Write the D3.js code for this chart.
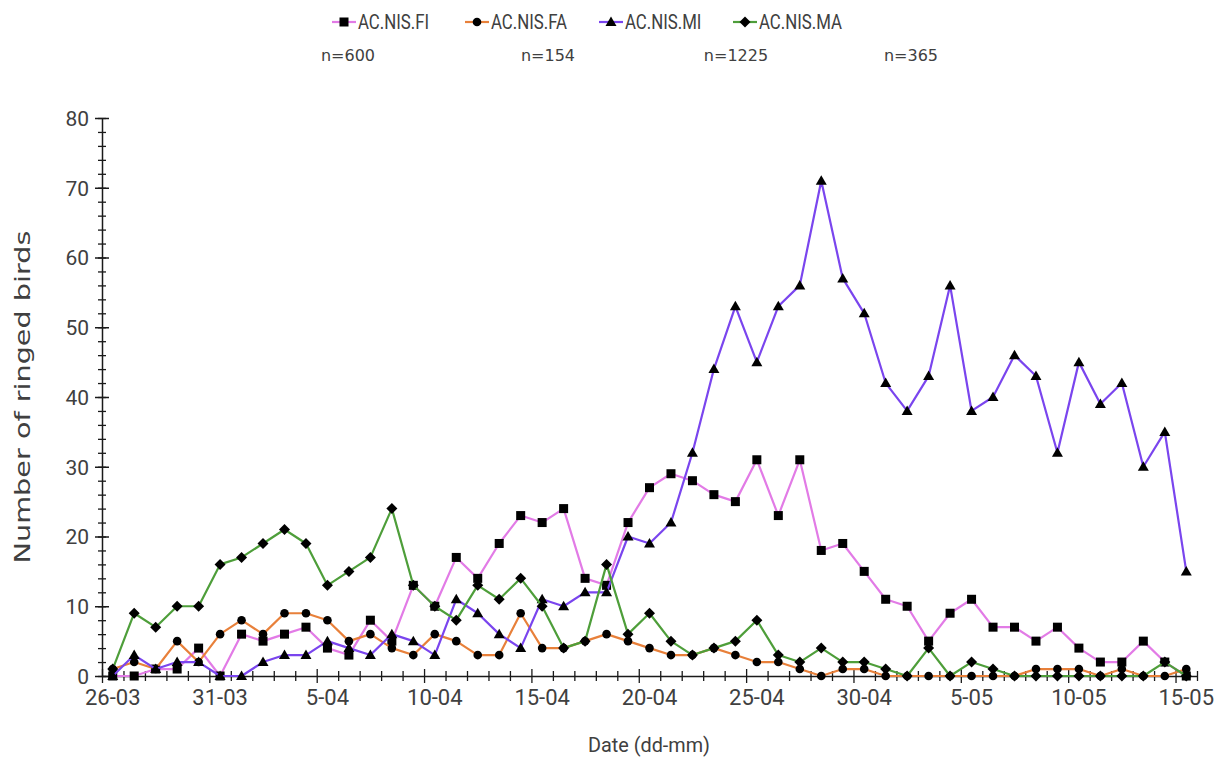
<!DOCTYPE html>
<html><head><meta charset="utf-8">
<script src="https://cdn.jsdelivr.net/npm/d3@7"></script>
<style>
body{margin:0;background:#fff;}
svg{display:block;font-family:"Roboto","Liberation Sans",sans-serif;}
</style></head>
<body><svg id="c" width="1222" height="765"></svg>
<script>
const dates = ["26-03","27-03","28-03","29-03","30-03","31-03","1-04","2-04","3-04","4-04","5-04","6-04","7-04","8-04","9-04","10-04","11-04","12-04","13-04","14-04","15-04","16-04","17-04","18-04","19-04","20-04","21-04","22-04","23-04","24-04","25-04","26-04","27-04","28-04","29-04","30-04","1-05","2-05","3-05","4-05","5-05","6-05","7-05","8-05","9-05","10-05","11-05","12-05","13-05","14-05","15-05"];
const seriesNames = ["AC.NIS.FI","AC.NIS.FA","AC.NIS.MI","AC.NIS.MA"];
const nLabels = ["n=600","n=154","n=1225","n=365"];
const fiValues = [0,0,1,1,4,0,6,5,6,7,4,3,8,5,13,10,17,14,19,23,22,24,14,13,22,27,29,28,26,25,31,23,31,18,19,15,11,10,5,9,11,7,7,5,7,4,2,2,5,2,0];
const faValues = [1,2,1,5,2,6,8,6,9,9,8,5,6,4,3,6,5,3,3,9,4,4,5,6,5,4,3,3,4,3,2,2,1,0,1,1,0,0,0,0,0,0,0,1,1,1,0,1,0,0,1];
const miValues = [0,3,1,2,2,0,0,2,3,3,5,4,3,6,5,3,11,9,6,4,11,10,12,12,20,19,22,32,44,53,45,53,56,71,57,52,42,38,43,56,38,40,46,43,32,45,39,42,30,35,15];
const maValues = [1,9,7,10,10,16,17,19,21,19,13,15,17,24,13,10,8,13,11,14,10,4,5,16,6,9,5,3,4,5,8,3,2,4,2,2,1,0,4,0,2,1,0,0,0,0,0,0,0,2,0];
const yMajorTicks = [0,10,20,30,40,50,60,70,80];
const xLabelDates = ["26-03","31-03","5-04","10-04","15-04","20-04","25-04","30-04","5-05","10-05","15-05"];

const colors = ["#E27BE6","#E8803A","#7A45EE","#4E9E3A"];
const markers = ["square","circle","triangle","diamond"];
const values = [fiValues, faValues, miValues, maValues];

const svg = d3.select("#c");
const L = 102, R = 1197, T = 118, B = 676;
const x = d3.scaleBand().domain(dates).range([L, R]).padding(0);
const xb = d3.scaleLinear().domain([0, dates.length]).range([L, R]);
const y = d3.scaleLinear().domain([0, 80]).range([B, T]);
const cx = d => x(d) + x.bandwidth()/2;
const axisColor = "#1a1a1a", textColor = "#404040";

// Y axis minor ticks
const yMinor = svg.append("g").attr("transform", `translate(${L},0)`)
  .call(d3.axisLeft(y).tickValues(d3.range(0, 81, 2)).tickFormat("").tickSize(0));
yMinor.select(".domain").remove();
yMinor.selectAll(".tick line").attr("x1", -4).attr("x2", 4).attr("stroke", axisColor).attr("stroke-width", 1.3);
// Y axis major
const yAx = svg.append("g").attr("transform", `translate(${L},0)`)
  .call(d3.axisLeft(y).tickValues(yMajorTicks).tickSize(0).tickPadding(13));
yAx.attr("font-size", 21).attr("font-family", null);
yAx.select(".domain").attr("stroke", axisColor).attr("stroke-width", 1.5);
yAx.selectAll(".tick line").attr("x1", -7).attr("x2", 7).attr("stroke", axisColor).attr("stroke-width", 1.5);
yAx.selectAll(".tick text").attr("fill", textColor).attr("dy", "0.35em");

// X axis boundary ticks
const xt = svg.append("g").attr("transform", `translate(0,${B})`)
  .call(d3.axisBottom(xb).tickValues(d3.range(0, dates.length + 1)).tickFormat("").tickSize(0));
xt.select(".domain").attr("stroke", axisColor).attr("stroke-width", 1.5);
xt.selectAll(".tick line")
  .attr("y1", d => d % 5 === 0 ? -7 : -5)
  .attr("y2", d => d % 5 === 0 ? 7 : 5)
  .attr("stroke", axisColor).attr("stroke-width", 1.3);
// X labels
const xl = svg.append("g").attr("transform", `translate(0,${B})`)
  .call(d3.axisBottom(x).tickValues(xLabelDates).tickSize(0).tickPadding(13));
xl.attr("font-size", 22).attr("font-family", null);
xl.select(".domain").remove();
xl.selectAll(".tick text").attr("fill", textColor);

// Axis titles
svg.append("text").attr("x", 649).attr("y", 752).attr("text-anchor", "middle")
  .attr("fill", textColor).style("font-size", "21px").attr("textLength", 122).attr("lengthAdjust", "spacingAndGlyphs")
  .text("Date (dd-mm)");
svg.append("text").attr("transform", `translate(30,${(T + B)/2}) rotate(-90)`)
  .attr("text-anchor", "middle").attr("fill", textColor)
  .style("font-family", "'DejaVu Sans', sans-serif").style("font-size", "21px")
  .attr("textLength", 333).attr("lengthAdjust", "spacingAndGlyphs").text("Number of ringed birds");

function drawMarker(g, type, px, py) {
  if (type === "square") g.append("rect").attr("x", px-4.5).attr("y", py-4.5).attr("width", 9).attr("height", 9).attr("fill", "#000");
  else if (type === "circle") g.append("circle").attr("cx", px).attr("cy", py).attr("r", 4.3).attr("fill", "#000");
  else if (type === "triangle") g.append("path").attr("d", `M${px},${py-5.5}L${px+5.5},${py+4}L${px-5.5},${py+4}Z`).attr("fill", "#000");
  else g.append("path").attr("d", `M${px},${py-5.5}L${px+5.5},${py}L${px},${py+5.5}L${px-5.5},${py}Z`).attr("fill", "#000");
}

const line = d3.line().x((v, i) => cx(dates[i])).y(v => y(v));
values.forEach((vals, s) => {
  const g = svg.append("g");
  g.append("path").datum(vals).attr("d", line).attr("fill", "none")
    .attr("stroke", colors[s]).attr("stroke-width", 2.2).attr("stroke-linejoin", "round");
  vals.forEach((v, i) => drawMarker(g, markers[s], cx(dates[i]), y(v)));
});

// Legend
const legX = [332, 465, 599, 733];
seriesNames.forEach((name, s) => {
  const g = svg.append("g");
  const lx = legX[s], ly = 22;
  g.append("line").attr("x1", lx).attr("x2", lx + 24).attr("y1", ly).attr("y2", ly)
    .attr("stroke", colors[s]).attr("stroke-width", 2.2);
  drawMarker(g, markers[s], lx + 12, ly);
  const t = g.append("text").attr("x", lx + 26).attr("y", ly).attr("dy", "0.35em")
    .attr("fill", textColor).style("font-size", "21px").text(name);
  const w = t.node().getComputedTextLength();
  t.attr("textLength", w * 0.8).attr("lengthAdjust", "spacingAndGlyphs");
});
const nX = [348, 548, 736, 911];
nLabels.forEach((txt, i) => {
  svg.append("text").attr("x", nX[i]).attr("y", 55).attr("dy", "0.35em").attr("text-anchor", "middle")
    .attr("fill", textColor).style("font-family", "'DejaVu Sans', sans-serif").style("font-size", "16px").text(txt);
});
</script></body></html>
